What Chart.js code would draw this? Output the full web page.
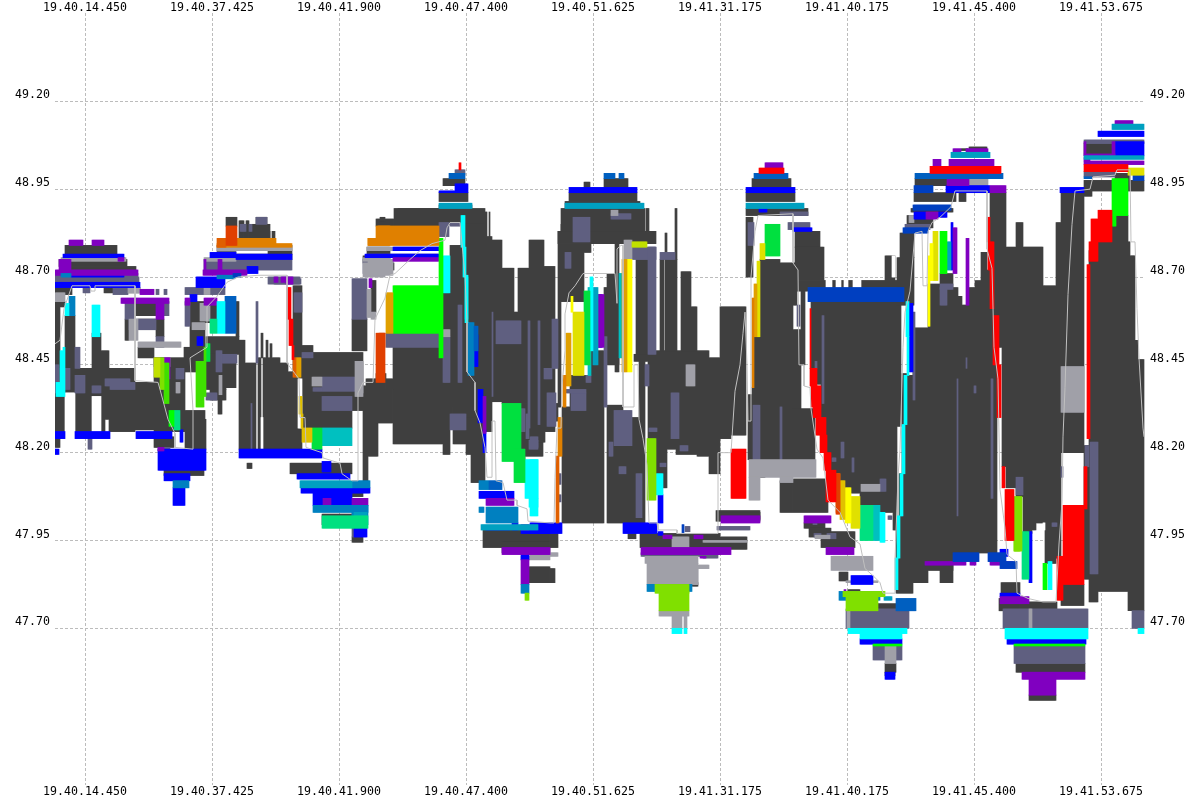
<!DOCTYPE html>
<html>
<head>
<meta charset="utf-8">
<style>
  html, body { margin: 0; padding: 0; background: #fff; }
  canvas { display: block; }
</style>
<script src="https://cdn.jsdelivr.net/npm/chart.js@4/dist/chart.umd.min.js"></script>
</head>
<body>
<canvas id="chart" width="1200" height="800"></canvas>
<script>
const xTickSamples = [85, 212, 339, 466, 593, 720, 847, 974, 1101];
const xTickLabels = ["19.40.14.450", "19.40.37.425", "19.40.41.900", "19.40.47.400", "19.40.51.625", "19.41.31.175", "19.41.40.175", "19.41.45.400", "19.41.53.675"];
const yTicks = [47.70, 47.95, 48.20, 48.45, 48.70, 48.95, 49.20];

// every run below is [first sample, last sample, upper price, lower price]
const dark = [
  [65,117,48.79,48.765],[59,127,48.75,48.73],[71,136,48.73,48.715],[55,72,48.67,48.65],[104,140,48.67,48.655],
  [55,60,48.63,48.44],[60,65,48.63,48.615],[65,75,48.59,48.44],[55,65,48.44,48.26],[65,75,48.44,48.37],
  [75,92,48.44,48.26],[92,101,48.54,48.36],[101,105,48.49,48.26],[105,109,48.49,48.295],[109,135,48.44,48.26],
  [135,154,48.40,48.265],[138,154,48.50,48.47],[135,156,48.63,48.59],[138,156,48.58,48.55],[125,129,48.58,48.52],
  [156,164,48.58,48.53],[154,185,48.47,48.26],[154,174,48.245,48.215],[55,60,48.245,48.215],
  [185,205,48.32,48.21],[184,205,48.50,48.43],[190,205,48.63,48.50],[164,204,48.15,48.135],[206,210,48.53,48.43],
  [210,239,48.53,48.48],[206,226,48.48,48.38],[226,236,48.455,48.385],[210,226,48.38,48.35],[218,222,48.35,48.31],
  [205,217,48.63,48.57],[200,206,48.295,48.21],[226,237,48.87,48.845],[244,270,48.83,48.81],[256,267,48.87,48.85],
  [239,244,48.86,48.81],[246,249,48.86,48.81],[252,256,48.85,48.81],[256,270,48.85,48.81],[272,275,48.83,48.81],
  [217,292,48.765,48.75],[268,292,48.79,48.765],[236,239,48.63,48.53],[239,245,48.52,48.21],[245,256,48.455,48.21],
  [258,261,48.47,48.21],[261,263,48.54,48.47],[263,266,48.47,48.21],[266,268,48.52,48.21],[268,270,48.47,48.21],
  [270,272,48.51,48.21],[272,280,48.47,48.21],[280,288,48.455,48.21],[288,293,48.43,48.21],[293,302,48.675,48.21],
  [302,313,48.505,48.48],[302,352,48.485,48.27],[352,363,48.485,48.32],[352,367,48.58,48.49],[363,366,48.39,48.12],
  [247,252,48.17,48.155],[290,352,48.17,48.14],[352,363,48.09,48.075],[331,352,48.085,48.075],[322,354,48.025,47.995],
  [352,363,47.96,47.945],[366,368,48.41,48.12],[368,378,48.41,48.19],[378,393,48.41,48.285],[393,443,48.50,48.225],
  [376,386,48.425,48.285],[386,393,48.38,48.285],[443,450,48.655,48.195],[450,461,48.79,48.33],[453,466,48.33,48.225],
  [450,453,48.33,48.29],[466,473,48.33,48.195],[471,485,48.33,48.115],[367,390,48.785,48.765],[363,390,48.76,48.74],
  [371,376,48.69,48.60],[394,439,48.895,48.845],[376,394,48.865,48.845],[380,385,48.87,48.86],[380,394,48.845,48.82],
  [367,394,48.74,48.72],[443,465,48.98,48.96],[439,468,48.94,48.915],[439,472,48.905,48.895],[398,485,48.895,48.85],
  [461,485,48.85,48.30],[485,492,48.815,48.26],[485,487,48.885,48.815],[489,490,48.885,48.815],[490,502,48.805,48.345],
  [502,514,48.725,48.34],[514,518,48.60,48.34],[518,529,48.725,48.34],[529,544,48.805,48.34],[544,555,48.73,48.34],
  [521,525,48.34,48.17],[525,543,48.34,48.19],[530,545,48.34,48.23],[545,555,48.34,48.26],[555,558,48.34,48.29],
  [558,561,48.83,48.33],[561,570,48.85,48.63],[570,584,48.795,48.63],[584,591,48.795,48.77],[558,656,48.83,48.795],
  [561,645,48.895,48.83],[565,640,48.915,48.895],[569,637,48.94,48.915],[604,628,48.98,48.955],[584,590,48.97,48.955],
  [562,570,48.33,48.00],[570,591,48.42,48.00],[591,604,48.49,48.00],[604,607,48.67,48.53],[607,619,48.71,48.45],
  [615,619,48.795,48.43],[607,623,48.335,48.00],[623,634,48.30,48.00],[634,639,48.30,48.00],[639,645,48.48,48.00],
  [634,648,48.48,48.46],[636,648,48.75,48.48],[648,656,48.49,48.24],[656,667,48.49,48.10],[667,676,48.49,48.21],
  [676,697,48.49,48.195],[697,709,48.49,48.19],[709,720,48.47,48.14],[720,731,48.615,48.24],[731,746,48.615,48.25],
  [646,649,48.895,48.83],[665,667,48.825,48.75],[675,677,48.895,48.75],[660,664,48.75,48.49],[665,677,48.75,48.49],
  [681,684,48.715,48.49],[684,691,48.715,48.49],[691,697,48.615,48.49],[530,558,47.97,47.93],[640,720,47.97,47.93],
  [530,555,47.87,47.83],[628,636,47.97,47.955],[649,659,47.87,47.825],[692,698,47.83,47.82],[529,550,47.875,47.83],
  [483,550,47.98,47.93],[502,550,47.945,47.915],[700,747,47.96,47.925],[716,760,48.035,48.005],[718,760,48.03,48.01],
  [752,791,48.98,48.955],[746,795,48.94,48.915],[746,808,48.895,48.875],[746,753,48.87,48.70],[754,760,48.53,48.18],
  [752,754,48.385,48.18],[748,752,48.365,48.18],[760,780,48.75,48.18],[780,793,48.74,48.18],[793,797,48.74,48.62],
  [793,801,48.55,48.325],[793,815,48.325,48.18],[795,820,48.83,48.785],[795,824,48.785,48.69],[795,808,48.69,48.66],
  [801,805,48.66,48.45],[811,817,48.64,48.44],[817,821,48.64,48.395],[821,826,48.64,48.30],[826,836,48.64,48.15],
  [836,840,48.64,48.14],[840,845,48.64,48.12],[845,851,48.64,48.10],[851,860,48.64,48.085],[860,880,48.64,48.05],
  [880,886,48.64,48.03],[886,893,48.64,48.03],[893,897,48.64,47.98],[897,901,48.64,48.275],[808,904,48.69,48.67],
  [846,880,48.635,48.63],[885,895,48.76,48.69],[793,828,48.125,48.03],[780,793,48.12,48.03],[760,765,48.17,48.13],
  [821,855,47.975,47.93],[804,825,48.00,47.985],[809,831,47.985,47.96],[839,848,47.86,47.835],[848,860,47.81,47.80],
  [873,897,47.77,47.75],[885,896,47.60,47.575],[885,895,47.575,47.565],[900,914,48.825,48.755],[897,914,48.755,48.62],
  [899,902,48.14,47.80],[896,899,48.00,47.80],[902,907,48.425,47.80],[907,913,48.42,47.80],[913,928,48.555,47.83],
  [928,940,48.68,47.865],[940,953,48.71,47.865],[953,958,48.67,47.915],[958,962,48.645,47.915],[962,969,48.62,47.915],
  [969,975,48.67,47.915],[975,981,48.69,47.915],[981,987,48.77,47.915],[987,997,48.72,47.915],[940,953,47.885,47.83],
  [914,956,48.94,48.915],[911,953,48.895,48.885],[907,933,48.875,48.84],[915,971,48.98,48.96],[959,966,48.94,48.915],
  [990,1002,48.94,48.50],[1002,1006,48.94,48.16],
  [1006,1016,48.785,48.10],[1016,1023,48.855,48.075],[1023,1032,48.785,47.97],[1032,1036,48.785,47.98],[1036,1043,48.785,48.00],
  [1043,1045,48.675,48.00],[1045,1056,48.675,47.885],[1056,1061,48.855,47.90],[1061,1084,48.94,48.20],[1084,1090,48.22,47.84],
  [1089,1098,48.775,47.775],[1098,1116,48.845,47.805],[1116,1128,48.875,47.805],[1128,1130,48.80,47.75],[1130,1135,48.76,47.75],
  [1135,1138,48.52,47.75],[1138,1144,48.465,47.75],[1061,1084,47.825,47.765],[1084,1144,48.975,48.945],[1115,1130,48.995,48.975],
  [1084,1115,49.08,49.05],[1084,1092,48.955,48.93],[1006,1057,47.775,47.75],[1043,1060,47.73,47.70],[1016,1085,47.60,47.575],
  [1029,1056,47.51,47.495],[999,1020,47.785,47.75],[1001,1020,47.83,47.80],[969,987,49.07,49.06],[961,968,49.065,49.06]
];
const gaps = [
  [261,263,48.30,48.165],[298,302,48.41,48.27],[65,75,48.37,48.26],[92,101,48.36,48.26],[1043,1045,48.00,47.98],
  [892,895,48.76,48.70],[826,832,48.695,48.655],[836,841,48.695,48.655],[844,848,48.695,48.655],[853,861,48.695,48.655]
];
const slate = [
  [55,61,48.71,48.70],[124,138,48.71,48.70],[55,139,48.70,48.685],[83,90,48.67,48.655],[113,128,48.67,48.65],
  [125,135,48.625,48.58],[129,156,48.55,48.58],[156,159,48.665,48.65],[164,167,48.665,48.65],[164,169,48.63,48.59],
  [154,164,48.47,48.445],[156,164,48.53,48.50],[55,59,48.45,48.37],[75,80,48.50,48.44],[92,101,48.39,48.37],
  [105,130,48.41,48.39],[110,135,48.40,48.38],[60,70,48.44,48.38],[75,85,48.42,48.37],[176,184,48.44,48.41],
  [88,92,48.245,48.21],[185,190,48.63,48.56],[185,225,48.67,48.65],[158,170,48.215,48.205],[206,217,48.37,48.35],
  [222,237,48.48,48.455],[216,222,48.49,48.43],[204,292,48.75,48.72],[217,236,48.79,48.765],[268,300,48.70,48.68],
  [274,301,48.695,48.68],[256,267,48.87,48.85],[240,246,48.85,48.83],[249,252,48.85,48.83],[256,258,48.63,48.455],[251,252,48.34,48.21],[294,302,48.655,48.60],
  [302,313,48.485,48.47],[322,355,48.415,48.375],[313,322,48.385,48.375],[322,352,48.36,48.32],[352,367,48.695,48.58],
  [302,322,48.115,48.105],[352,354,48.06,47.96],[363,385,48.75,48.71],[367,439,48.765,48.755],[368,393,48.75,48.74],
  [386,441,48.54,48.50],[443,450,48.53,48.40],[458,462,48.62,48.40],[450,466,48.31,48.265],[455,465,49.005,48.99],
  [439,449,48.855,48.815],[450,461,48.855,48.845],[496,521,48.575,48.51],[492,493,48.60,48.36],[538,540,48.575,48.28],
  [528,530,48.575,48.27],[521,525,48.325,48.26],[526,529,48.31,48.24],[529,538,48.235,48.21],[552,558,48.58,48.44],
  [544,552,48.44,48.41],[547,556,48.37,48.275],[530,538,48.245,48.215],[573,590,48.87,48.80],[611,631,48.88,48.865],
  [565,571,48.77,48.725],[571,586,48.37,48.32],[566,586,48.38,48.37],[586,591,48.42,48.40],[604,607,48.53,48.33],
  [614,632,48.32,48.22],[609,613,48.23,48.19],[619,626,48.16,48.14],[636,642,48.14,48.015],[558,561,48.14,48.11],
  [558,561,48.08,48.06],[632,656,48.785,48.75],[648,656,48.785,48.48],[660,675,48.77,48.75],[645,649,48.45,48.39],
  [649,657,48.27,48.26],[671,679,48.37,48.24],[680,688,48.22,48.205],[660,666,48.17,48.16],[642,667,47.925,47.91],
  [685,690,47.99,47.975],[703,718,47.915,47.90],[717,750,47.99,47.98],[748,754,48.855,48.79],[753,760,48.335,48.18],
  [780,782,48.33,48.18],[788,810,48.855,48.835],[780,808,48.885,48.875],[797,800,48.62,48.56],[822,824,48.59,48.34],
  [815,817,48.46,48.44],[841,844,48.23,48.185],[832,836,48.185,48.175],[852,854,48.185,48.145],[880,886,48.125,48.09],
  [888,892,48.02,48.01],[813,817,48.00,47.995],[814,821,47.97,47.96],[827,836,47.97,47.955],[833,855,47.905,47.89],
  [846,909,47.755,47.70],[905,930,48.85,48.835],[913,915,48.60,48.35],[940,947,48.67,48.62],[940,953,48.68,48.665],
  [957,958,48.41,48.02],[991,993,48.41,48.07],[966,967,48.47,48.44],[974,976,48.39,48.37],[1016,1023,48.13,48.08],
  [1132,1144,47.75,47.70],[1003,1088,47.755,47.70],[1014,1085,47.65,47.60],[1085,1089,48.22,48.16],[1090,1098,48.23,47.855],
  [1061,1063,48.16,48.13],[1052,1057,48.00,47.99],[1084,1144,49.09,49.08],[1084,1115,49.00,48.985],[873,902,47.65,47.61],
  [641,703,47.915,47.905]
];
const gray = [
  [61,126,48.755,48.745],[128,140,48.67,48.655],[55,65,48.655,48.63],[129,138,48.58,48.52],[138,181,48.515,48.50],
  [164,170,48.47,48.445],[176,180,48.40,48.37],[192,205,48.57,48.55],[217,292,48.79,48.775],[204,236,48.755,48.745],
  [204,210,48.69,48.65],[200,210,48.625,48.575],[219,222,48.42,48.365],[312,322,48.415,48.39],[355,363,48.46,48.36],
  [363,390,48.755,48.745],[363,385,48.74,48.70],[368,393,48.75,48.705],[367,371,48.665,48.585],[371,376,48.60,48.58],
  [360,363,48.455,48.37],[367,439,48.785,48.775],[443,450,48.55,48.53],[611,618,48.89,48.875],[624,632,48.805,48.75],
  [686,695,48.45,48.39],[672,689,47.96,47.93],[645,698,47.905,47.885],[647,698,47.885,47.825],[698,709,47.88,47.87],[703,747,47.95,47.945],
  [749,816,48.18,48.13],[749,760,48.13,48.065],[780,793,48.13,48.115],[815,830,47.965,47.955],[831,873,47.905,47.865],
  [847,850,47.755,47.70],[659,698,47.87,47.825],[861,880,48.11,48.09],[1061,1084,48.445,48.315],[1029,1032,47.755,47.70],
  [846,878,47.835,47.83],[885,896,47.65,47.60],[672,682,47.735,47.70],[684,687,47.735,47.70],[659,689,47.75,47.735],
  [967,988,48.985,48.955],[909,914,48.875,48.855],[530,558,47.915,47.905],[521,550,47.905,47.895]
];
const blue = [
  [63,124,48.765,48.755],[71,124,48.71,48.70],[55,140,48.685,48.67],[55,65,48.26,48.24],[75,92,48.26,48.24],
  [92,110,48.26,48.24],[136,172,48.26,48.24],[54,59,48.21,48.195],[158,206,48.21,48.15],[164,190,48.14,48.12],
  [173,185,48.10,48.05],[180,183,48.265,48.23],[197,203,48.53,48.505],[190,197,48.65,48.63],[196,225,48.70,48.67],
  [210,236,48.77,48.755],[236,292,48.765,48.75],[247,258,48.73,48.71],[239,322,48.21,48.185],[322,331,48.175,48.145],
  [297,350,48.14,48.125],[301,370,48.10,48.085],[313,352,48.085,48.05],[331,352,48.07,48.05],[354,367,47.985,47.96],
  [365,439,48.765,48.755],[393,439,48.785,48.775],[439,455,48.945,48.94],[455,468,48.965,48.94],[474,478,48.535,48.445],
  [478,483,48.38,48.285],[483,486,48.265,48.20],[479,514,48.09,48.07],[512,518,48.00,47.98],[486,510,47.985,47.98],
  [521,550,47.98,47.97],[521,529,47.915,47.895],[569,637,48.955,48.94],[598,602,48.65,48.50],[530,562,48.00,47.97],
  [623,657,48.00,47.97],[658,663,48.08,48.00],[658,663,47.975,47.965],[746,795,48.955,48.94],[759,767,48.895,48.885],
  [793,812,48.84,48.83],[851,873,47.85,47.825],[860,902,47.67,47.655],[885,895,47.575,47.555],[909,913,48.625,48.43],
  [951,953,48.855,48.72],[914,926,48.885,48.865],[938,947,48.885,48.87],[946,990,48.96,48.94],[1098,1144,49.115,49.10],
  [1115,1144,49.085,49.045],[1060,1084,48.955,48.94],[1029,1032,47.975,47.83],[1007,1086,47.67,47.655],[1000,1008,47.925,47.905],
  [1000,1002,47.80,47.79],[1002,1020,47.80,47.79]
];
const purple = [
  [69,83,48.805,48.79],[92,104,48.805,48.79],[118,124,48.755,48.745],[59,71,48.75,48.715],[54,138,48.72,48.705],
  [140,154,48.665,48.65],[121,169,48.64,48.625],[156,164,48.625,48.58],[164,170,48.47,48.41],[158,164,48.215,48.205],
  [185,190,48.64,48.62],[204,217,48.64,48.62],[204,206,48.75,48.71],[218,222,48.75,48.71],[203,247,48.72,48.705],
  [274,278,48.70,48.685],[281,286,48.70,48.685],[286,293,48.70,48.68],[323,331,48.07,48.05],[352,368,48.07,48.05],
  [369,372,48.695,48.67],[393,439,48.755,48.745],[483,486,48.36,48.255],[486,514,48.07,48.05],[521,529,47.995,47.98],
  [502,550,47.93,47.91],[521,529,47.895,47.825],[598,604,48.65,48.50],[641,720,47.93,47.91],[663,672,47.965,47.955],
  [694,703,47.965,47.955],[721,760,48.02,48.00],[700,731,47.93,47.91],[804,831,48.02,48.00],[826,854,47.93,47.91],
  [765,783,49.025,49.01],[953,957,48.84,48.71],[966,969,48.81,48.62],[933,941,49.035,49.015],[949,994,49.035,49.015],
  [953,961,49.065,49.055],[966,988,49.065,49.055],[947,969,48.98,48.96],[990,1006,48.96,48.94],[926,938,48.885,48.865],
  [925,966,47.89,47.88],[970,976,47.89,47.88],[990,1013,47.89,47.88],[1000,1029,47.79,47.77],[1022,1085,47.575,47.555],
  [1029,1056,47.555,47.51],[1115,1133,49.145,49.125],[1084,1086,49.085,49.045],[1112,1115,49.085,49.045],[1084,1115,49.05,49.045],
  [1084,1090,49.04,49.03],[1084,1144,49.03,49.02],[700,706,47.905,47.90],[844,846,47.81,47.79]
];
const azure = [
  [61,71,48.71,48.70],[69,75,48.645,48.59],[217,235,48.705,48.695],[173,189,48.12,48.10],
  [352,370,48.12,48.10],[313,368,48.05,48.03],[352,368,48.05,47.995],[468,474,48.57,48.42],
  [479,489,48.12,48.095],[486,518,48.045,48.00],[479,484,48.045,48.03],[521,529,47.825,47.80],[647,692,47.825,47.805],
  [839,880,47.805,47.78]
];
const royal = [
  [225,236,48.645,48.54],[449,465,48.995,48.98],[604,615,48.995,48.98],[619,624,48.995,48.98],[754,788,48.995,48.98],
  [915,1003,48.995,48.98],[1084,1092,48.985,48.98],[896,916,47.785,47.75],[489,502,48.12,48.095],
  [474,478,48.56,48.49]
];
const cobalt = [
  [808,904,48.67,48.63],[914,933,48.96,48.94],[913,951,48.905,48.89],[903,928,48.84,48.825],[953,979,47.915,47.89],
  [988,1006,47.915,47.89],[1133,1144,48.99,48.975],[233,241,48.71,48.70],[682,684,47.995,47.97],[1000,1017,47.89,47.87]
];
const teal = [
  [439,472,48.91,48.895],[565,644,48.91,48.895],[746,804,48.91,48.895],[300,352,48.12,48.10],[481,538,47.995,47.98],
  [951,990,49.055,49.04],[1112,1144,49.135,49.12],[1084,1144,49.045,49.035],[354,367,48.03,47.99],[947,951,48.80,48.72],
  [593,598,48.67,48.45],[884,892,47.79,47.78]
];
const turquoise = [
  [322,352,48.27,48.22],[619,623,48.71,48.47],[873,880,48.05,47.95],[588,591,48.67,48.42],[465,468,48.70,48.58]
];
const cyan = [
  [65,69,48.625,48.59],[92,100,48.62,48.53],[56,60,48.40,48.36],[60,63,48.49,48.36],[63,65,48.50,48.36],
  [217,225,48.63,48.54],[443,450,48.76,48.655],[461,465,48.875,48.785],[463,466,48.785,48.70],[465,468,48.705,48.57],
  [525,538,48.18,48.07],[529,538,48.07,48.045],[530,538,48.18,48.02],[590,593,48.70,48.49],[656,663,48.14,48.08],
  [880,885,48.03,47.945],[907,909,48.53,48.42],[904,907,48.42,48.28],[902,905,48.28,48.14],[900,903,48.14,48.02],
  [897,900,48.02,47.90],[895,898,47.90,47.81],[848,907,47.70,47.685],[860,902,47.685,47.67],[1005,1088,47.70,47.67],
  [1138,1144,47.70,47.685],[672,682,47.70,47.685],[684,687,47.70,47.685],[1048,1052,47.89,47.81],[906,909,48.63,48.53]
];
const mint = [
  [210,217,48.58,48.54],[174,180,48.32,48.265],[322,368,48.02,47.985],[860,873,48.05,47.95],[1022,1029,47.975,47.84]
];
const emerald = [
  [312,322,48.27,48.21],[502,521,48.34,48.175],[514,525,48.21,48.115],[584,590,48.66,48.45],
  [765,780,48.85,48.76],[206,210,48.51,48.46]
];
const green = [
  [393,439,48.675,48.54],[439,443,48.81,48.47],[169,174,48.32,48.275],[940,947,48.83,48.71],[1112,1128,48.98,48.875],
  [1112,1116,48.875,48.845],[873,902,47.655,47.65],[1014,1085,47.655,47.65],[1043,1047,47.885,47.81]
];
const chartreuse = [
  [196,204,48.46,48.33],[204,206,48.50,48.36],[164,169,48.455,48.34]
];
const lime = [
  [160,164,48.47,48.38],[647,656,48.24,48.065],[846,878,47.80,47.75],[843,885,47.805,47.79],[659,689,47.805,47.75],
  [655,689,47.825,47.80],[1014,1022,48.075,47.92],[525,529,47.80,47.78],[1014,1020,48.07,47.92]
];
const yellowGreen = [
  [154,160,48.47,48.415],[632,647,48.80,48.785]
];
const olive = [
  [573,584,48.60,48.42],[760,765,48.795,48.75],[757,760,48.745,48.53],[851,860,48.075,47.985],[933,938,48.83,48.69],
  [1128,1144,49.01,48.99]
];
const yellow = [
  [571,573,48.645,48.60],[627,632,48.75,48.43],[845,851,48.10,48.00],[930,933,48.795,48.69],[928,930,48.76,48.56]
];
const gold = [
  [302,312,48.27,48.23],[299,302,48.36,48.31],[301,303,48.31,48.27],[840,845,48.12,48.01]
];
const amber = [
  [386,393,48.655,48.54],[566,571,48.54,48.39],[622,627,48.75,48.43],[754,757,48.68,48.53],[296,301,48.47,48.415]
];
const orange = [
  [376,439,48.845,48.81],[368,439,48.81,48.79],[217,292,48.795,48.785],[236,276,48.81,48.79],[563,566,48.42,48.33],
  [558,562,48.30,48.19],[752,754,48.64,48.385],[368,390,48.81,48.79],[378,390,48.845,48.81],[836,840,48.14,48.03]
];
const tangerine = [
  [293,296,48.47,48.415],[556,559,48.19,48.00],[217,226,48.81,48.785]
];
const vermilion = [
  [226,237,48.845,48.79],[376,385,48.54,48.40],[379,385,48.54,48.50],[836,840,48.14,48.025]
];
const red = [
  [287,291,48.67,48.58],[289,293,48.58,48.505],[292,294,48.505,48.465],[459,461,49.025,49.005],[731,746,48.21,48.07],
  [759,784,49.01,48.995],[810,811,48.61,48.44],[810,817,48.44,48.39],[811,821,48.39,48.33],[813,821,48.33,48.30],
  [816,826,48.30,48.25],[820,827,48.25,48.20],[824,831,48.20,48.15],[826,836,48.15,48.06],[930,1001,49.015,48.995],
  [987,990,48.87,48.80],[988,994,48.80,48.72],[990,994,48.72,48.61],[993,999,48.59,48.45],[997,1001,48.45,48.30],
  [1002,1005,48.16,48.10],[1005,1014,48.095,47.95],[1084,1128,49.02,49.00],[1098,1112,48.89,48.80],[1091,1098,48.865,48.80],
  [1089,1098,48.80,48.745],[1087,1090,48.735,48.24],[1063,1084,48.05,47.825],[1057,1063,47.905,47.78],[1084,1087,48.16,48.04]
];
// mid price trace, [sample, price]
const priceTrace = [
  [55,48.51],[60,48.52],[64,48.61],[72,48.675],[90,48.675],[91,48.66],[95,48.66],[95,48.675],[135,48.675],[135,48.405],
  [158,48.40],[160,48.38],[168,48.295],[175,48.255],[175,48.215],[193,48.21],[193,48.32],[190,48.47],[207,48.50],
  [207,48.615],[217,48.645],[227,48.685],[238,48.70],[258,48.705],[287,48.705],[287,48.455],[295,48.425],[299,48.41],
  [300,48.30],[305,48.30],[306,48.215],[322,48.20],[323,48.185],[340,48.17],[342,48.14],[352,48.12],[358,48.12],
  [358,48.37],[363,48.40],[373,48.40],[375,48.58],[385,48.64],[390,48.705],[395,48.71],[410,48.75],[420,48.775],
  [432,48.795],[445,48.805],[447,48.84],[450,48.855],[460,48.855],[463,48.765],[465,48.705],[467,48.57],[467,48.43],
  [475,48.40],[475,48.32],[480,48.285],[485,48.215],[487,48.13],[492,48.13],[492,48.29],[495,48.29],[496,48.12],
  [503,48.115],[507,48.065],[517,48.065],[517,48.05],[527,48.04],[528,48.005],[550,48.00],[554,48.00],[555,48.13],
  [557,48.27],[561,48.27],[562,48.39],[565,48.49],[565,48.595],[569,48.655],[575,48.675],[583,48.71],[615,48.71],
  [617,48.625],[617,48.78],[621,48.79],[623,48.79],[623,48.33],[634,48.33],[634,48.45],[638,48.45],[639,48.295],
  [643,48.24],[647,48.165],[649,48.00],[657,48.00],[658,47.98],[677,47.98],[677,47.97],[718,47.97],[718,48.20],
  [731,48.20],[735,48.375],[740,48.45],[743,48.54],[745,48.60],[747,48.45],[748,48.29],[751,48.29],[751,48.70],
  [755,48.83],[758,48.875],[793,48.88],[793,48.74],[798,48.72],[799,48.45],[804,48.45],[804,48.39],[810,48.385],
  [811,48.325],[817,48.21],[823,48.185],[828,48.065],[840,48.03],[850,47.96],[860,47.94],[865,47.87],[873,47.85],
  [880,47.83],[883,47.80],[895,47.80],[895,47.895],[898,48.13],[900,48.21],[903,48.50],[905,48.60],[910,48.66],
  [915,48.825],[922,48.83],[923,48.675],[927,48.675],[928,48.83],[932,48.855],[940,48.87],[951,48.90],[955,48.945],
  [987,48.945],[987,48.78],[992,48.725],[994,48.50],[998,48.41],[1000,48.095],[1005,47.985],[1007,47.91],[1016,47.89],
  [1017,47.80],[1028,47.785],[1043,47.775],[1056,47.775],[1059,47.94],[1062,48.06],[1063,48.245],[1065,48.385],
  [1068,48.65],[1072,48.85],[1075,48.945],[1090,48.95],[1093,48.985],[1115,48.99],[1117,49.005],[1130,49.005],
  [1131,48.80],[1135,48.80],[1137,48.61],[1139,48.47],[1143,48.27],[1144,48.245]
];

const layers = [
  [dark, "#404040"], [gaps, "#ffffff"], [slate, "#606080"], [gray, "#a0a0a8"], [blue, "#0000ff"], [purple, "#8000c0"],
  [azure, "#0080c0"], [royal, "#0060c0"], [cobalt, "#0040c0"], [teal, "#00a0c0"], [turquoise, "#00c0c0"], [cyan, "#00ffff"],
  [mint, "#00e080"], [emerald, "#00e040"], [green, "#00ff00"], [chartreuse, "#40e000"], [lime, "#80e000"],
  [yellowGreen, "#c0e000"], [olive, "#e0e000"], [yellow, "#ffff00"], [gold, "#e0c000"], [amber, "#e0a000"],
  [orange, "#e08000"], [tangerine, "#e06000"], [vermilion, "#e04000"], [red, "#ff0000"]
];

// one floating bar per sample of every run
function columns(runs) {
  const points = [];
  runs.forEach(([first, last, upper, lower]) => {
    for (let x = first; x < last; x++) points.push({ x: x + 0.5, y: [lower, upper] });
  });
  return points;
}

const datasets = layers.map(([runs, color], i) => ({
  type: "bar",
  data: columns(runs),
  backgroundColor: color,
  borderWidth: 0,
  barPercentage: 1,
  categoryPercentage: 1,
  grouped: false,
  inflateAmount: 0.35,
  order: layers.length + 1 - i
}));

datasets.push({
  type: "line",
  data: priceTrace.map(([x, y]) => ({ x, y })),
  borderColor: "#c0c0c0",
  borderWidth: 1,
  pointRadius: 0,
  tension: 0,
  fill: false,
  order: 0
});

const tickFont = { family: "'DejaVu Sans Mono', monospace", size: 11.6 };
const gridLine = { color: "#bcbcbc", lineWidth: 1, drawTicks: false };

function xAxis(position, showGrid, height, padding) {
  return {
    type: "linear",
    position,
    min: 55,
    max: 1145,
    offset: false,
    border: { display: false, dash: [3, 2] },
    grid: { ...gridLine, display: showGrid, offset: false },
    afterFit: s => { s.height = height; },
    afterBuildTicks: s => { s.ticks = xTickSamples.map(value => ({ value })); },
    ticks: {
      font: tickFont,
      color: "#000",
      padding,
      maxRotation: 0,
      autoSkip: false,
      callback: v => xTickLabels[xTickSamples.indexOf(v)]
    }
  };
}

function yAxis(position, showGrid) {
  return {
    type: "linear",
    position,
    min: 47.254,
    max: 49.4515,
    border: { display: false, dash: [3, 2] },
    grid: { ...gridLine, display: showGrid },
    afterFit: s => { s.width = 55; },
    afterBuildTicks: s => { s.ticks = yTicks.map(value => ({ value })); },
    ticks: {
      font: tickFont,
      color: "#000",
      padding: 5,
      labelOffset: -6,
      autoSkip: false,
      callback: v => v.toFixed(2)
    }
  };
}

new Chart(document.getElementById("chart"), {
  data: { datasets },
  options: {
    responsive: false,
    animation: false,
    layout: { padding: 0 },
    plugins: { legend: { display: false }, tooltip: { enabled: false } },
    scales: {
      x: xAxis("bottom", true, 15, 0),
      xTop: xAxis("top", false, 13, -2),
      y: yAxis("left", true),
      yRight: yAxis("right", false)
    }
  }
});
</script>
</body>
</html>
